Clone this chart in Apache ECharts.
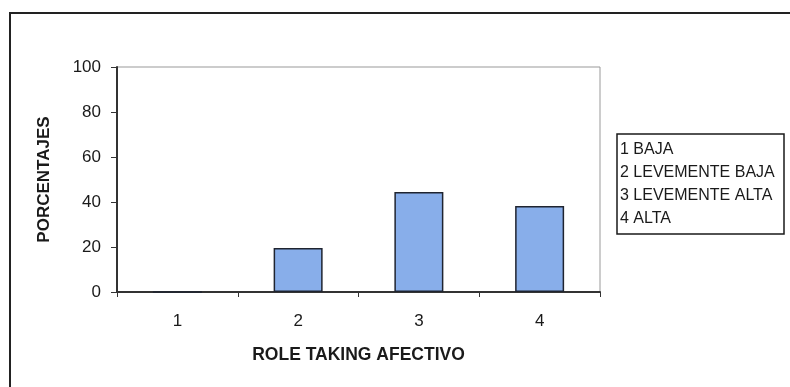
<!DOCTYPE html>
<html>
<head>
<meta charset="utf-8">
<script src="https://cdn.jsdelivr.net/npm/echarts@6/dist/echarts.min.js"></script>
<style>
  html, body { margin: 0; padding: 0; background: #fff; }
  #chart { width: 790px; height: 387px; }
</style>
</head>
<body>
<div id="chart"></div>
<script>
// datos del grafico
var categorias = ['1', '2', '3', '4'];
var porcentajes = [0, 19.6, 44.4, 38.2];
var leyenda = ['1 BAJA', '2 LEVEMENTE BAJA', '3 LEVEMENTE ALTA', '4 ALTA'];
var ticksY = [0, 20, 40, 60, 80, 100];

var fuente = '"Liberation Sans", Arial, sans-serif';

var chart = echarts.init(document.getElementById('chart'));

var option = {
    backgroundColor: '#fff',
    animation: false,
    textStyle: { fontFamily: fuente, color: '#1a1a1a' },
    // recuadro de leyenda (solo texto)
    title: {
        text: leyenda.join('\n'),
        left: 617,
        top: 134,
        padding: [4, 2, 4, 3],
        borderColor: '#1a1a1a',
        borderWidth: 1.5,
        textStyle: {
            fontFamily: fuente,
            fontSize: 16,
            fontWeight: 'normal',
            color: '#1a1a1a',
            lineHeight: 23,
            width: 162
        }
    },
    grid: {
        left: 117,
        top: 67,
        right: 190,
        bottom: 95,
        show: true,
        borderColor: '#999',
        borderWidth: 1
    },
    xAxis: {
        type: 'category',
        data: categorias,
        name: 'ROLE TAKING AFECTIVO',
        nameLocation: 'middle',
        nameGap: 54,
        nameTextStyle: { fontFamily: fuente, fontSize: 17.5, fontWeight: 'bold', color: '#1a1a1a' },
        axisLine: { lineStyle: { color: '#333', width: 2 } },
        axisTick: { show: true, length: 5, lineStyle: { color: '#333' } },
        axisLabel: { margin: 21, fontSize: 17, color: '#1a1a1a' }
    },
    yAxis: {
        type: 'value',
        min: ticksY[0],
        max: ticksY[ticksY.length - 1],
        interval: 20,
        name: 'PORCENTAJES',
        nameLocation: 'middle',
        nameRotate: 90,
        nameGap: 64,
        nameTextStyle: { fontFamily: fuente, fontSize: 17, fontWeight: 'bold', color: '#1a1a1a' },
        axisLine: { show: true, lineStyle: { color: '#333', width: 2 } },
        axisTick: { show: true, length: 6, lineStyle: { color: '#333' } },
        axisLabel: { margin: 16, fontSize: 17, color: '#1a1a1a' },
        splitLine: { show: false }
    },
    series: [{
        type: 'bar',
        data: porcentajes,
        barWidth: 49,
        itemStyle: {
            color: '#88aeea',
            borderColor: '#1f2430',
            borderWidth: 1.5
        }
    }],
    // marco exterior
    graphic: [{
        type: 'rect',
        z: -1,
        shape: { x: 10, y: 13, width: 900, height: 600 },
        style: { fill: 'none', stroke: '#222', lineWidth: 2 }
    }]
};

chart.setOption(option);
</script>
</body>
</html>
